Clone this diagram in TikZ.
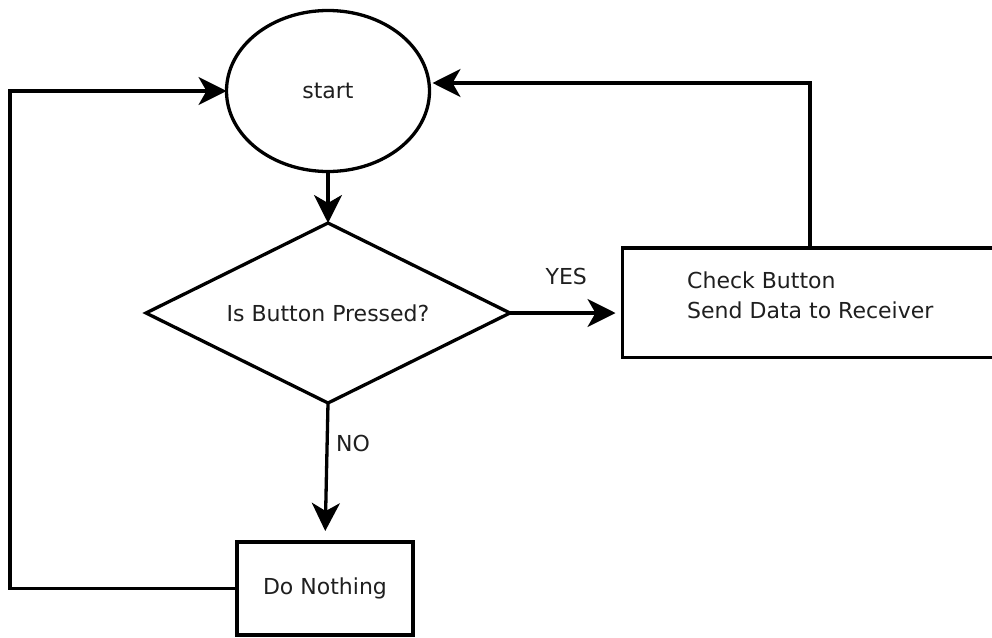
\documentclass[tikz,border=0pt]{standalone}
\usepackage{fontspec}
\setmainfont{DejaVu Sans}
\usetikzlibrary{shapes.geometric,arrows.meta}
\begin{document}
\begin{tikzpicture}[x=1pt,y=-1pt,
  every node/.style={font=\fontsize{22}{30}\selectfont, text=black!88},
  shapeline/.style={draw=black, line width=3.3pt, fill=white, outer sep=0pt, inner sep=0pt},
  flow/.style={draw=black, line width=3.3pt, -{Stealth[length=28pt,width=28pt,inset=8pt]}}]
  \useasboundingbox (0,0) rectangle (992,637);

  % shapes of the flow chart
  \node[shapeline, ellipse, minimum width=203pt, minimum height=161pt] (start) at (328,91) {start};
  \node[shapeline, diamond, aspect=2, minimum width=364pt, minimum height=180pt] (ask) at (328,313) {Is Button Pressed?};
  \node[shapeline, rectangle, minimum width=377.5pt, minimum height=109.5pt, anchor=north west] (act) at (622.5,248) {};
  \node[anchor=north west, inner sep=0pt, align=left] (acttext) at (687,272) {Check Button\\Send Data to Receiver};
  \node[shapeline, rectangle, minimum width=176pt, minimum height=93pt] (idle) at (325,588.5) {Do Nothing};

  % bends of the two return lines
  \coordinate (loopL) at (10,91);
  \coordinate (loopR) at (810,83);

  % connectors
  \draw[flow] (start.south) -- (ask.north);
  \draw[flow, shorten >=7pt] (ask.east) -- node[midway, yshift=36.5pt] (yes) {YES} (act.west |- ask.east);
  \draw[flow, shorten >=11pt] (ask.south) -- node[pos=0.29, xshift=26pt] (no) {NO} (idle.north);
  \draw[flow] (idle.west) -| (loopL) -- (start.west);
  \draw[flow, shorten >=3pt] (act.north -| loopR) -- (loopR) -- (start.east |- loopR);
\end{tikzpicture}
\end{document}
